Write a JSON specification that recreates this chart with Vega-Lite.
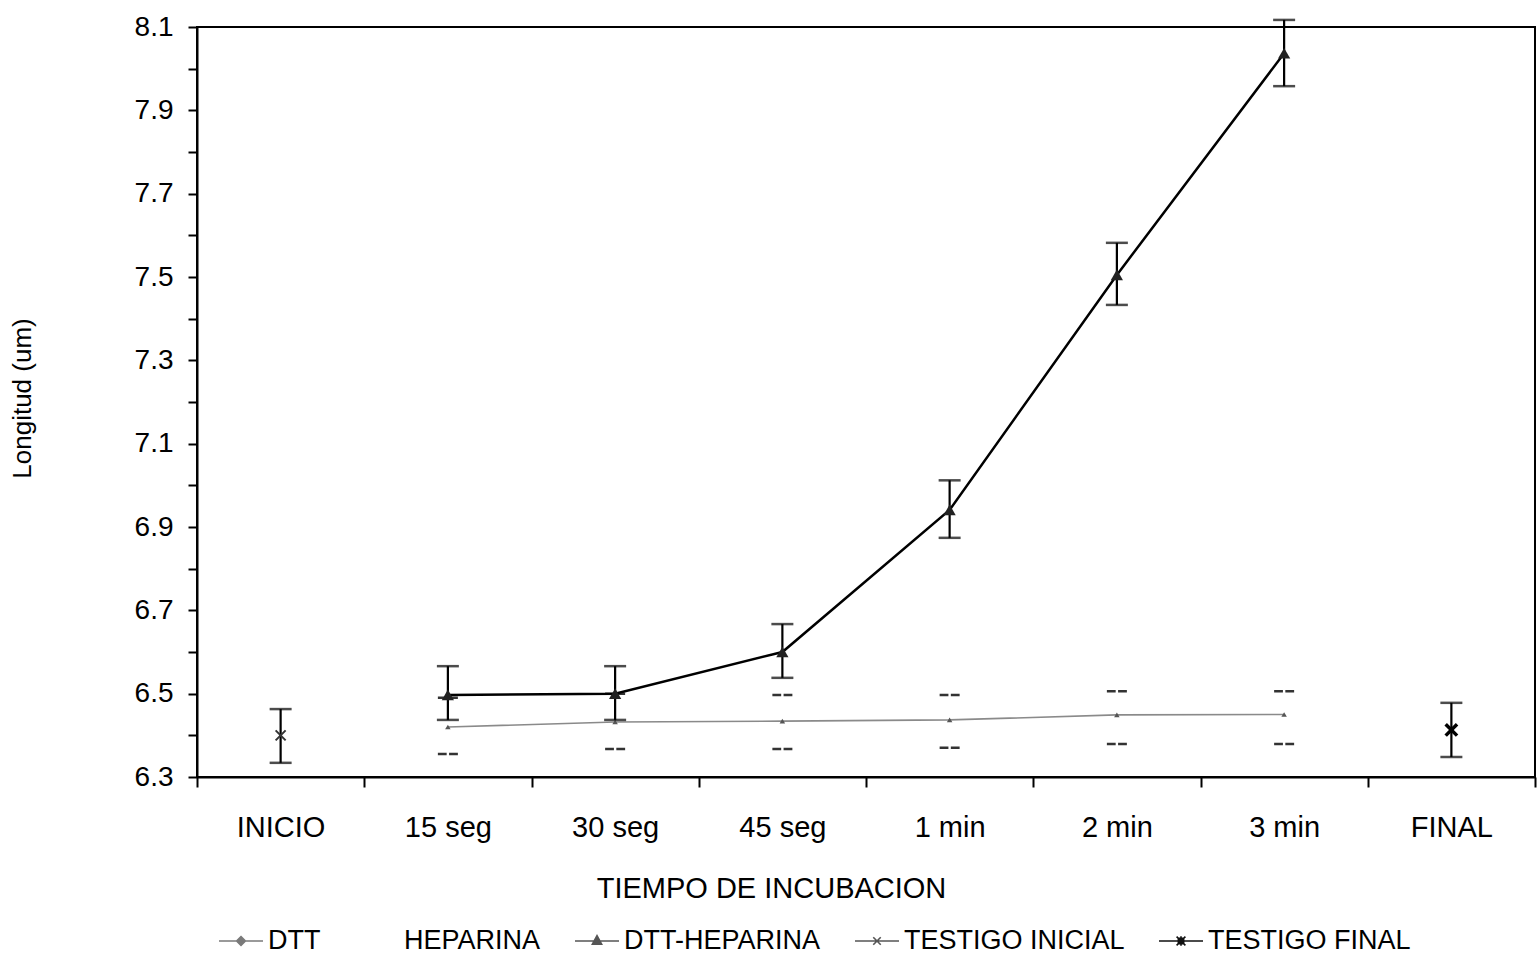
{
  "$schema": "https://vega.github.io/schema/vega-lite/v6.json",
  "width": 1338,
  "height": 750,
  "autosize": {"type": "none"},
  "padding": {"left": 197, "top": 27, "right": 2, "bottom": 177},
  "background": "white",
  "config": {
    "font": "Liberation Sans",
    "view": {"stroke": "black", "strokeWidth": 2},
    "axis": {"grid": false, "domainColor": "black", "domainWidth": 2, "tickColor": "black", "tickWidth": 2, "labelColor": "black", "titleColor": "black", "titleFontWeight": "normal"}
  },
  "data": {
    "values": [
      {"t": "INICIO", "serie": "TESTIGO INICIAL", "v": 6.40, "lo": 6.334, "hi": 6.463},
      {"t": "15 seg", "serie": "DTT-HEPARINA", "v": 6.497, "lo": 6.437, "hi": 6.566},
      {"t": "30 seg", "serie": "DTT-HEPARINA", "v": 6.50, "lo": 6.437, "hi": 6.566},
      {"t": "45 seg", "serie": "DTT-HEPARINA", "v": 6.60, "lo": 6.538, "hi": 6.667},
      {"t": "1 min", "serie": "DTT-HEPARINA", "v": 6.941, "lo": 6.874, "hi": 7.012},
      {"t": "2 min", "serie": "DTT-HEPARINA", "v": 7.505, "lo": 7.433, "hi": 7.582},
      {"t": "3 min", "serie": "DTT-HEPARINA", "v": 8.037, "lo": 7.958, "hi": 8.117},
      {"t": "FINAL", "serie": "TESTIGO FINAL", "v": 6.413, "lo": 6.348, "hi": 6.478},
      {"t": "15 seg", "serie": "DTT", "v": 6.42, "lo": 6.355, "hi": 6.49},
      {"t": "30 seg", "serie": "DTT", "v": 6.432, "lo": 6.367, "hi": 6.50},
      {"t": "45 seg", "serie": "DTT", "v": 6.434, "lo": 6.367, "hi": 6.497},
      {"t": "1 min", "serie": "DTT", "v": 6.437, "lo": 6.37, "hi": 6.497},
      {"t": "2 min", "serie": "DTT", "v": 6.449, "lo": 6.379, "hi": 6.506},
      {"t": "3 min", "serie": "DTT", "v": 6.45, "lo": 6.379, "hi": 6.506},
      {"t": "15 seg", "serie": "HEPARINA", "v": 6.42, "lo": 6.42, "hi": 6.42}
    ]
  },
  "encoding": {
    "x": {
      "field": "t", "type": "nominal",
      "scale": {"domain": ["INICIO", "15 seg", "30 seg", "45 seg", "1 min", "2 min", "3 min", "FINAL"], "paddingInner": 0, "paddingOuter": 0},
      "axis": {
        "title": "TIEMPO DE INCUBACION", "labelAngle": 0, "labelFontSize": 29, "labelPadding": 26,
        "tickBand": "extent", "tickSize": 10,
        "titleFontSize": 29, "titleX": 574, "titleY": 97, "titleBaseline": "top", "titleAnchor": "middle", "titleAlign": "center"
      }
    },
    "y": {
      "field": "v", "type": "quantitative",
      "scale": {"domain": [6.3, 8.1], "nice": false, "zero": false},
      "axis": {
        "title": "Longitud (um)",
        "values": [6.3, 6.4, 6.5, 6.6, 6.7, 6.8, 6.9, 7.0, 7.1, 7.2, 7.3, 7.4, 7.5, 7.6, 7.7, 7.8, 7.9, 8.0, 8.1],
        "format": ".1f",
        "labelExpr": "round(datum.value*10)%2==1 ? datum.label : ''",
        "labelFontSize": 28, "labelPadding": 15, "tickSize": 9,
        "titleFontSize": 26, "titleX": -175, "titleY": 371, "titleAngle": -90, "titleBaseline": "middle", "titleAnchor": "middle", "titleAlign": "center"
      }
    }
  },
  "layer": [
    {
      "transform": [{"filter": "datum.serie == 'DTT'"}],
      "mark": {"type": "line", "color": "#8a8a8a", "strokeWidth": 1.6},
      "encoding": {}
    },
    {
      "transform": [{"filter": "datum.serie == 'DTT'"}],
      "mark": {"type": "point", "shape": "M-1,0L-0.12,0M0.12,0L1,0", "filled": false, "color": "#333", "size": 400, "strokeWidth": 2.5, "opacity": 1},
      "encoding": {"y": {"field": "hi", "type": "quantitative"}}
    },
    {
      "transform": [{"filter": "datum.serie == 'DTT'"}],
      "mark": {"type": "point", "shape": "M-1,0L-0.12,0M0.12,0L1,0", "filled": false, "color": "#333", "size": 400, "strokeWidth": 2.5, "opacity": 1},
      "encoding": {"y": {"field": "lo", "type": "quantitative"}}
    },
    {
      "transform": [{"filter": "datum.serie == 'DTT'"}],
      "mark": {"type": "point", "shape": "triangle-up", "filled": true, "color": "#555", "size": 30, "opacity": 1},
      "encoding": {}
    },
    {
      "transform": [{"filter": "datum.serie != 'DTT' && datum.serie != 'HEPARINA'"}],
      "mark": {"type": "rule", "color": "black", "strokeWidth": 2.2, "clip": false},
      "encoding": {"y": {"field": "lo", "type": "quantitative"}, "y2": {"field": "hi"}}
    },
    {
      "transform": [{"filter": "datum.serie != 'DTT' && datum.serie != 'HEPARINA'"}],
      "mark": {"type": "tick", "color": "black", "size": 22, "thickness": 2.5},
      "encoding": {"y": {"field": "hi", "type": "quantitative"}}
    },
    {
      "transform": [{"filter": "datum.serie != 'DTT' && datum.serie != 'HEPARINA'"}],
      "mark": {"type": "tick", "color": "black", "size": 22, "thickness": 2.5},
      "encoding": {"y": {"field": "lo", "type": "quantitative"}}
    },
    {
      "transform": [{"filter": "datum.serie == 'DTT-HEPARINA'"}],
      "mark": {"type": "line", "color": "black", "strokeWidth": 2.5},
      "encoding": {}
    },
    {
      "transform": [{"filter": "datum.serie == 'DTT-HEPARINA'"}],
      "mark": {"type": "point", "shape": "triangle-up", "filled": true, "color": "#222", "size": 150, "opacity": 1},
      "encoding": {}
    },
    {
      "transform": [{"filter": "datum.serie == 'TESTIGO INICIAL'"}],
      "mark": {"type": "point", "shape": "M-1,-1L1,1M-1,1L1,-1", "filled": false, "color": "#333", "size": 100, "strokeWidth": 2, "opacity": 1},
      "encoding": {}
    },
    {
      "transform": [{"filter": "datum.serie == 'TESTIGO FINAL'"}],
      "mark": {"type": "point", "shape": "M-1,-1L1,1M-1,1L1,-1", "filled": false, "color": "black", "size": 130, "strokeWidth": 3.5, "opacity": 1},
      "encoding": {}
    },
    {
      "mark": {"type": "point", "filled": true, "opacity": 0},
      "encoding": {
        "color": {
          "field": "serie", "type": "nominal",
          "scale": {"domain": ["DTT", "HEPARINA", "DTT-HEPARINA", "TESTIGO INICIAL", "TESTIGO FINAL"], "range": ["#7a7a7a", "#ffffff", "#555555", "#555555", "#111111"]},
          "legend": {
            "title": null, "orient": "none", "legendX": 21, "legendY": 891, "direction": "horizontal", "columns": 5,
            "symbolSize": 1936, "symbolOpacity": 1, "labelFontSize": 27, "labelColor": "black", "labelOffset": 4, "columnPadding": 30, "labelLimit": 500,
            "symbolStrokeWidth": 1.6,
            "encode": {"symbols": {"update": {"stroke": {"signal": "scale('color', datum.value)"}, "strokeWidth": {"value": 1.6}}}}
          }
        },
        "shape": {
          "field": "serie", "type": "nominal",
          "scale": {"domain": ["DTT", "HEPARINA", "DTT-HEPARINA", "TESTIGO INICIAL", "TESTIGO FINAL"], "range": [
            "M-1,0L1,0M0,-0.2L0.2,0L0,0.2L-0.2,0Z",
            "M-1,0L1,0",
            "M-1,0L1,0M0,-0.24L0.21,0.14L-0.21,0.14Z",
            "M-1,0L1,0M-0.17,-0.17L0.17,0.17M-0.17,0.17L0.17,-0.17",
            "M-1,0L1,0M-0.2,-0.2L0.2,0.2M-0.2,0.2L0.2,-0.2M0,-0.22L0,0.22M-0.12,-0.12L0.12,-0.12L0.12,0.12L-0.12,0.12Z"
          ]}
        }
      }
    }
  ]
}
